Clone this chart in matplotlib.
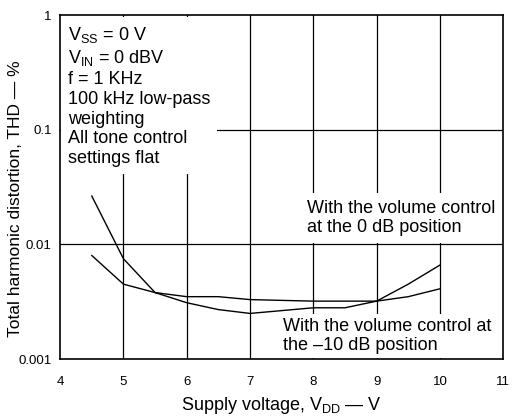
import numpy as np
import matplotlib.pyplot as plt

plt.rcParams['font.family'] = ['Liberation Sans', 'DejaVu Sans']
plt.rcParams['mathtext.fontset'] = 'custom'
plt.rcParams['mathtext.rm'] = 'Liberation Sans'
plt.rcParams['mathtext.it'] = 'Liberation Sans'
plt.rcParams['mathtext.default'] = 'regular'

# supply voltage (V)
vdd = [4.5, 5.0, 5.5, 6.0, 6.5, 7.0, 8.0, 8.5, 9.0, 9.5, 10.0]
# THD (%) - the steeper curve
thd_a = [0.0264, 0.0075, 0.0038, 0.0031, 0.0027, 0.0025, 0.0028, 0.0028, 0.0032, 0.0045, 0.0066]
# THD (%) - the flatter curve
thd_b = [0.0080, 0.0045, 0.0038, 0.0035, 0.0035, 0.0033, 0.0032, 0.0032, 0.0032, 0.0035, 0.0041]

x_ticks = [4, 5, 6, 7, 8, 9, 10, 11]
y_ticks = [0.001, 0.01, 0.1, 1]
y_labels = ['0.001', '0.01', '0.1', '1']

fig = plt.figure(figsize=(5.14, 4.18), dpi=100)
ax = fig.add_axes([0.117, 0.141, 0.862, 0.823])

ax.set_yscale('log')
ax.set_xlim(4, 11)
ax.set_ylim(0.001, 1)
ax.set_xticks(x_ticks)
ax.set_xticklabels([str(t) for t in x_ticks])
ax.set_yticks(y_ticks)
ax.set_yticklabels(y_labels)
ax.minorticks_off()
ax.tick_params(axis='x', length=0, labelsize=9.5, pad=12)
ax.tick_params(axis='y', length=0, labelsize=9.5, pad=6)

for xv in x_ticks[1:-1]:
    ax.axvline(xv, color='black', lw=0.9, zorder=1)
for yv in y_ticks[1:-1]:
    ax.axhline(yv, color='black', lw=0.9, zorder=1)

ax.plot(vdd, thd_a, color='black', lw=1.0, zorder=2)
ax.plot(vdd, thd_b, color='black', lw=1.0, zorder=2)

for s in ax.spines.values():
    s.set_linewidth(1.2)
    s.set_zorder(4)

ax.text(0.018, 0.972,
        'V$_{SS}$ = 0 V\nV$_{IN}$ = 0 dBV\nf = 1 KHz\n100 kHz low-pass\nweighting\nAll tone control\nsettings flat',
        transform=ax.transAxes, va='top', ha='left', fontsize=13, linespacing=1.22,
        bbox=dict(facecolor='white', edgecolor='none', pad=5), zorder=3)
ax.text(7.9, 0.0170, 'With the volume control\nat the 0 dB position',
        va='center', ha='left', fontsize=13, linespacing=1.15,
        bbox=dict(facecolor='white', edgecolor='none', pad=5), zorder=3)
ax.text(7.52, 0.00159, 'With the volume control at\nthe \u201310 dB position',
        va='center', ha='left', fontsize=13, linespacing=1.15,
        bbox=dict(facecolor='white', edgecolor='none', pad=3), zorder=3)

ax.set_xlabel('Supply voltage, V$_{DD}$ \u2014 V', fontsize=13, labelpad=5)
ax.set_ylabel('Total harmonic distortion, THD \u2014 %', fontsize=12.5)
ax.yaxis.set_label_coords(-0.083, 0.465)

fig.savefig('out.png', dpi=100)
